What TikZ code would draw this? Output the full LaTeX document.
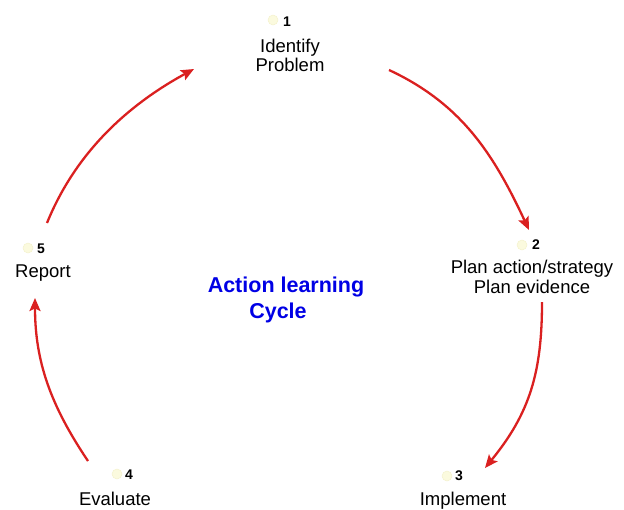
\documentclass[tikz,border=0pt]{standalone}
\usepackage{fontspec}
\setmainfont{Liberation Sans}
\usetikzlibrary{arrows.meta,calc}
\definecolor{arrowred}{RGB}{218,32,32}
\definecolor{dotyellow}{RGB}{251,250,222}
\definecolor{dotedge}{RGB}{244,242,205}
\tikzset{
  lbl/.style={anchor=base,inner sep=0pt,font=\fontsize{18.5}{21}\selectfont},
  num/.style={anchor=base,inner sep=0pt,font=\fontsize{14}{16}\selectfont\bfseries},
  dot/.style={circle,fill=dotyellow,draw=dotedge,line width=0.5pt,minimum size=10pt,inner sep=0pt},
  title/.style={anchor=base,inner sep=0pt,text=blue!90!black,font=\fontsize{21.5}{24}\selectfont\bfseries},
  cyc/.style={draw=arrowred,line width=2.3pt,-{Stealth[length=13pt,width=11pt,inset=2.5pt]}}
}
\begin{document}
\begin{tikzpicture}[x=1pt,y=-1pt]
\useasboundingbox (0,0) rectangle (624,509);
% step 1
\node[dot] (d1) at (273,20) {};
\node[num] (n1) at (287,26) {1};
\node[lbl] (t1a) at (290,52) {Identify};
\node[lbl] (t1b) at (290,71) {Problem};
% step 2
\node[dot] (d2) at (522,245) {};
\node[num] (n2) at (536,249) {2};
\node[lbl] (t2a) at (532,273) {Plan action/strategy};
\node[lbl] (t2b) at (532,293) {Plan evidence};
% step 3
\node[dot] (d3) at (447,476) {};
\node[num] (n3) at (459,480) {3};
\node[lbl] (t3) at (463,505) {Implement};
% step 4
\node[dot] (d4) at (117,474) {};
\node[num] (n4) at (129,479) {4};
\node[lbl] (t4) at (115,505) {Evaluate};
% step 5
\node[dot] (d5) at (28,248) {};
\node[num] (n5) at (41,253) {5};
\node[lbl] (t5) at (43,277) {Report};
% centre title
\node[title] (ta) at (286,292) {Action learning};
\node[title] (tb) at (278,318) {Cycle};
% arrow end points and handles
\coordinate (a1s) at (389,70);  \coordinate (a1p) at (462,104); \coordinate (a1q) at (494,155); \coordinate (a1e) at (529,230);
\coordinate (a2s) at (542,302); \coordinate (a2p) at (542,372); \coordinate (a2q) at (530,413); \coordinate (a2e) at (485,468);
\coordinate (a3s) at (88,461);  \coordinate (a3p) at (51,406);  \coordinate (a3q) at (35,362);  \coordinate (a3e) at (35,298);
\coordinate (a4s) at (47,223);  \coordinate (a4p) at (75,154);  \coordinate (a4q) at (126,106); \coordinate (a4e) at (194,69);
\draw[cyc] (a1s) .. controls (a1p) and (a1q) .. (a1e);
\draw[cyc] (a2s) .. controls (a2p) and (a2q) .. (a2e);
\draw[cyc] (a3s) .. controls (a3p) and (a3q) .. (a3e);
\draw[cyc] (a4s) .. controls (a4p) and (a4q) .. (a4e);
\end{tikzpicture}
\end{document}
